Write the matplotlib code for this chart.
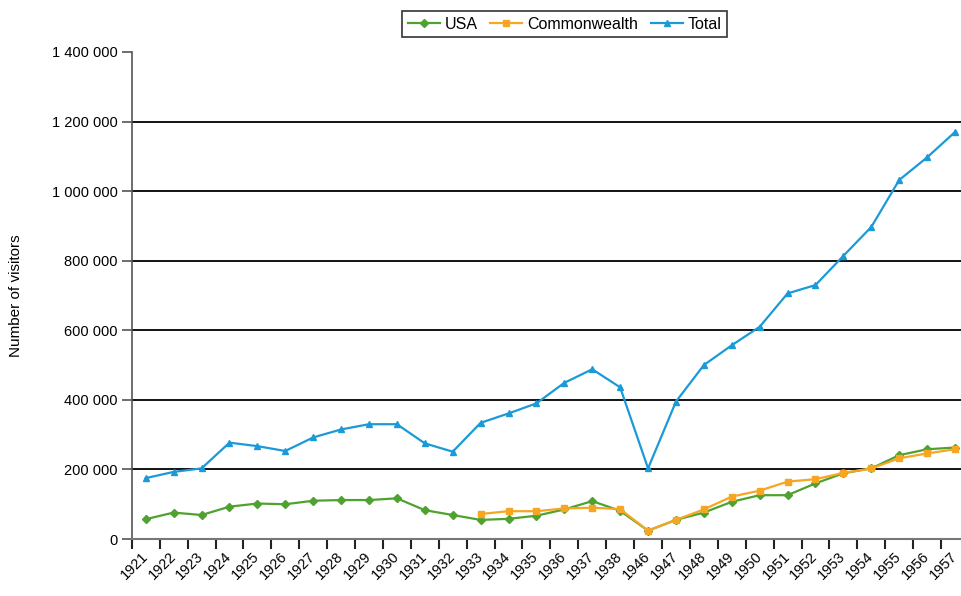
import numpy as np
import matplotlib
matplotlib.use("Agg")
import matplotlib.pyplot as plt
import matplotlib.transforms as mtransforms

plt.rcParams["font.family"] = ["Liberation Sans", "DejaVu Sans"]

# Visitors per year
years = ["1921", "1922", "1923", "1924", "1925", "1926", "1927", "1928", "1929",
         "1930", "1931", "1932", "1933", "1934", "1935", "1936", "1937", "1938",
         "1946", "1947", "1948", "1949", "1950", "1951", "1952", "1953", "1954",
         "1955", "1956", "1957"]

usa = [57000, 76000, 69000, 93000, 102000, 100000, 110000, 112000, 112000,
       117000, 83000, 69000, 55000, 58000, 67000, 85000, 109000, 81000,
       24000, 55000, 76000, 107000, 126000, 126000, 160000, 189000, 203000,
       241000, 258000, 263000]

# Commonwealth series starts in 1933
commonwealth = [None] * 12 + [72000, 80000, 80000, 88000, 90000, 86000,
                              24000, 55000, 85000, 122000, 139000, 165000,
                              172000, 190000, 203000, 232000, 246000, 258000]

total = [175000, 193000, 203000, 277000, 267000, 253000, 292000, 315000,
         330000, 330000, 275000, 251000, 334000, 361000, 390000, 449000,
         488000, 436000, 203000, 395000, 500000, 557000, 610000, 706000,
         730000, 814000, 897000, 1032000, 1097000, 1170000]

x = np.arange(len(years))
cw = np.array([np.nan if v is None else v for v in commonwealth], dtype=float)

fig = plt.figure(figsize=(9.62, 5.96), dpi=100)
ax = fig.add_axes([0.137, 0.0956, 0.863, 0.8172])

green = "#4fa22f"
orange = "#f6a623"
blue = "#1b9ad7"

ax.plot(x, usa, color=green, lw=1.6, marker="D", ms=4.5, label="USA", zorder=3)
ax.plot(x, cw, color=orange, lw=1.6, marker="s", ms=4.5, label="Commonwealth", zorder=4)
ax.plot(x, total, color=blue, lw=1.6, marker="^", ms=5, label="Total", zorder=3)

ax.set_xlim(-0.5, 29.25)
ax.set_ylim(0, 1400000)

yt = np.arange(0, 1400001, 200000)
ax.set_yticks(yt)
ax.set_yticklabels([f"{v:,}".replace(",", " ") for v in yt], fontsize=10.5)
for v in yt[1:-1]:
    ax.axhline(v, color="black", lw=1.3, zorder=1)

ax.set_xticks(x)
ax.set_xticklabels(years, rotation=45, ha="right", rotation_mode="anchor", fontsize=10.5)
ax.tick_params(axis="x", length=0, pad=7)
# nudge the rotated year labels a little to the left
shift = mtransforms.ScaledTranslation(-5 / 100, 0, fig.dpi_scale_trans)
for lbl in ax.get_xticklabels():
    lbl.set_transform(lbl.get_transform() + shift)
ax.set_xticks(np.arange(-0.5, 29.5, 1), minor=True)
ax.tick_params(axis="x", which="minor", length=7, width=1.5, color="#222222")
ax.tick_params(axis="y", length=7, width=1.2, color="#555555", pad=3)

for s in ["top", "right"]:
    ax.spines[s].set_visible(False)
ax.spines["left"].set_color("#555555")
ax.spines["bottom"].set_color("#777777")
ax.spines["left"].set_linewidth(1.2)
ax.spines["bottom"].set_linewidth(1.5)

ax.set_ylabel("Number of visitors", fontsize=11)
ax.yaxis.set_label_coords(-0.131, 0.5)

leg = fig.legend(loc="upper center", bbox_to_anchor=(0.587, 0.995), ncol=3,
                 fontsize=11.5, frameon=True, fancybox=False, edgecolor="black",
                 handlelength=2.0, handletextpad=0.3, columnspacing=0.8,
                 borderpad=0.35)
leg.get_frame().set_linewidth(1.2)

fig.savefig("out.png", dpi=100)
